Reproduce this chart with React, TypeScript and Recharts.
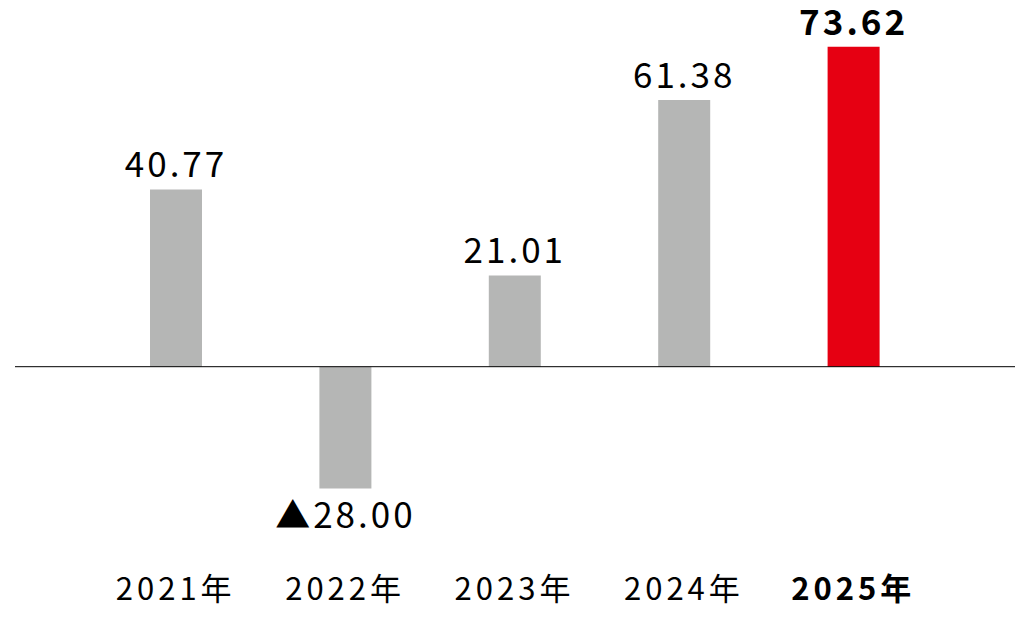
import { BarChart, Bar, XAxis, YAxis, Cell, LabelList, ReferenceLine } from 'recharts';

const years = ['2021年', '2022年', '2023年', '2024年', '2025年'];
const values = [40.77, -28.0, 21.01, 61.38, 73.62];
const highlightIndex = 4;

const data = years.map((year, i) => ({ year, value: values[i] }));

const FONT = '"Noto Sans CJK JP", "Noto Sans", sans-serif';
const GRAY = '#b5b6b5';
const RED = '#e60012';

const formatValue = (v: number) => (v < 0 ? `▲${Math.abs(v).toFixed(2)}` : v.toFixed(2));

function ValueLabel(props: any) {
  const { x, y, width, height, value, index } = props;
  const top = Math.min(y, y + height);
  const bottom = Math.max(y, y + height);
  const cx = x + width / 2;
  const bold = index === highlightIndex;
  const ty = value < 0 ? bottom + 40 : top - 12;
  return (
    <text
      x={cx}
      y={ty}
      textAnchor="middle"
      fontFamily={FONT}
      fontSize={35}
      fontWeight={bold ? 700 : 400}
      letterSpacing={3}
      fill="#000"
    >
      {formatValue(value)}
    </text>
  );
}

function YearTick(props: any) {
  const { x, y, payload, index } = props;
  const bold = index === highlightIndex;
  return (
    <text
      x={x}
      y={y}
      dy={8}
      textAnchor="middle"
      fontFamily={FONT}
      fontSize={31}
      fontWeight={bold ? 700 : 400}
      letterSpacing={4}
      fill="#000"
    >
      {payload.value}
    </text>
  );
}

export default function App() {
  return (
    <div style={{ position: 'absolute', left: 0, top: 0, width: 1033, height: 622, background: '#fff' }}>
      <BarChart width={1033} height={622} data={data} margin={{ top: 19, right: 18, bottom: 8, left: 15 }}>
        <XAxis
          dataKey="year"
          axisLine={false}
          tickLine={false}
          height={30}
          padding={{ left: 76, right: 77 }}
          tick={<YearTick />}
          interval={0}
        />
        <YAxis hide domain={[-50, 80]} />
        <ReferenceLine y={0} stroke="#000" strokeWidth={1} />
        <Bar dataKey="value" barSize={52} isAnimationActive={false}>
          {data.map((_, i) => (
            <Cell key={i} fill={i === highlightIndex ? RED : GRAY} />
          ))}
          <LabelList dataKey="value" content={<ValueLabel />} />
        </Bar>
      </BarChart>
    </div>
  );
}
